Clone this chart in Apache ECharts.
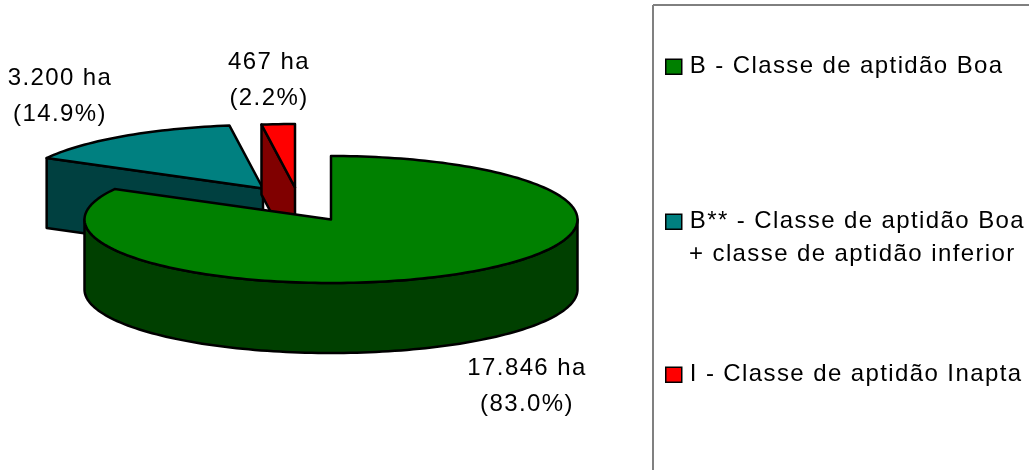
<!DOCTYPE html>
<html><head><meta charset="utf-8">
<style>html,body{margin:0;padding:0;background:#fff}#c{width:1029px;height:470px}</style>
<script src="https://cdn.jsdelivr.net/npm/echarts@6/dist/echarts.min.js"></script>
</head><body><div id="c"></div>
<script>
// --- data ---
const categories = ['B - Classe de aptidão Boa', 'B** - Classe de aptidão Boa\n+ classe de aptidão inferior', 'I - Classe de aptidão Inapta'];
const areaHa = [17846, 3200, 467];
const percentLabels = ['83.0%', '14.9%', '2.2%'];
const areaLabels = ['17.846 ha', '3.200 ha', '467 ha'];
const topColors = ['#008000', '#008080', '#ff0000'];
const sideColors = ['#004000', '#004040', '#800000'];

// --- layout ---
const pie = { cx: 331, cy: 219.5, rx: 246.5, ry: 63.5, depth: 70 };
const explodeX = [0, -68, -36];
const explodeY = [0, -31, -32];
const labelX = [527, 60, 269];
const labelY = [369.5, 79.5, 63.5];
const legendTop = [54, 209, 362];
const drawOrder = [1, 2, 0];
const LETTER = '1.4px';
const FONT = '"Liberation Sans", Arial, sans-serif';

// wide tracking of the original text
['fillText', 'strokeText', 'measureText'].forEach(function (m) {
  const orig = CanvasRenderingContext2D.prototype[m];
  CanvasRenderingContext2D.prototype[m] = function () {
    this.letterSpacing = LETTER;
    return orig.apply(this, arguments);
  };
});

const total = areaHa.reduce((a, b) => a + b, 0);
const angles = [];
areaHa.reduce(function (acc, v, i) {
  const next = acc + v / total * 360;
  angles[i] = [acc, next];
  return next;
}, 0);

function pt(i, deg, dy) {
  const r = deg * Math.PI / 180;
  return [
    pie.cx + explodeX[i] + pie.rx * Math.sin(r),
    pie.cy + explodeY[i] - pie.ry * Math.cos(r) + (dy || 0)
  ];
}
function apex(i, dy) {
  return [pie.cx + explodeX[i], pie.cy + explodeY[i] + (dy || 0)];
}
function arc(i, a, b, dy) {
  const out = [];
  const n = Math.max(2, Math.ceil(Math.abs(b - a) / 1.5));
  for (let k = 0; k <= n; k++) out.push(pt(i, a + (b - a) * k / n, dy));
  return out;
}
const stroke = { stroke: '#000', lineWidth: 2.5, lineJoin: 'round' };

function makeRender(i) {
  return function () {
    const a = angles[i][0], b = angles[i][1];
    const children = [];
    const poly = (points, fill) => children.push({
      type: 'polygon', shape: { points: points },
      style: Object.assign({ fill: fill }, stroke)
    });
    // cut wall seen from the front
    if (a > 180) {
      poly([pt(i, a), apex(i), apex(i, pie.depth), pt(i, a, pie.depth)], sideColors[i]);
    }
    // outer rim, front half only
    const s = Math.max(a, 90), e = Math.min(b, 270);
    if (e > s) {
      poly(arc(i, s, e).concat(arc(i, e, s, pie.depth)), sideColors[i]);
    }
    // top face
    poly([apex(i)].concat(arc(i, a, b)), topColors[i]);
    // value label
    children.push({
      type: 'text',
      style: {
        x: labelX[i], y: labelY[i], text: areaLabels[i] + '\n(' + percentLabels[i] + ')',
        fill: '#000', font: '24px ' + FONT,
        align: 'center', verticalAlign: 'middle', lineHeight: 36
      },
      position: [0, 17]
    });
    return { type: 'group', children: children };
  };
}

const firstLine = s => s.split('\n')[0];
const secondLine = s => s.split('\n')[1];
const textFont = { fontSize: 24, fontFamily: FONT, color: '#000' };

const option = {
  backgroundColor: '#fff',
  animation: false,
  legend: categories.map(function (name, i) {
    return {
      data: [name], left: 665, top: legendTop[i], padding: 0,
      itemWidth: 16, itemHeight: 15, itemGap: 0, icon: 'rect', selectedMode: false,
      formatter: firstLine,
      itemStyle: { borderColor: '#000', borderWidth: 1.5 },
      textStyle: Object.assign({ padding: [0, 0, 0, 3] }, textFont)
    };
  }),
  graphic: [
    { type: 'line', shape: { x1: 653, y1: 5, x2: 1029, y2: 5 }, style: { stroke: '#000', lineWidth: 1 } },
    { type: 'line', shape: { x1: 653, y1: 5, x2: 653, y2: 470 }, style: { stroke: '#808080', lineWidth: 2 } },
    {
      type: 'text', left: 689, top: 242,
      style: { text: secondLine(categories[1]), fill: '#000', font: '24px ' + FONT }
    }
  ],
  series: drawOrder.map(function (i) {
    return {
      type: 'custom', name: categories[i], coordinateSystem: 'none', silent: true,
      itemStyle: { color: topColors[i] },
      data: [areaHa[i]],
      renderItem: makeRender(i)
    };
  })
};
const chart = echarts.init(document.getElementById('c'), null, { renderer: 'canvas' });
chart.setOption(option);
</script></body></html>
